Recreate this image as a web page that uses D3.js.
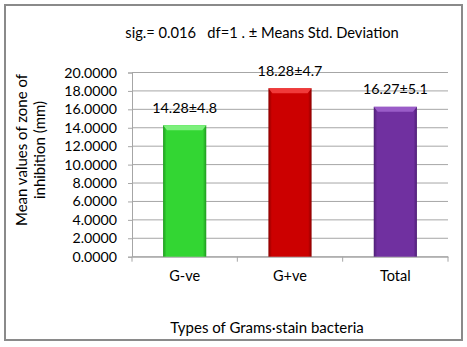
<!DOCTYPE html>
<html><head><meta charset="utf-8">
<script src="https://cdn.jsdelivr.net/npm/d3@7"></script>
<style>body{margin:0;background:#fff}svg{display:block}text{font-family:Lato,"Open Sans",sans-serif;fill:#000}</style>
</head><body><svg id="c" width="467" height="347"></svg>
<script>
const categories = ["G-ve", "G+ve", "Total"];
const means = [14.28, 18.28, 16.27];
const sds = [4.8, 4.7, 5.1];
const yTicks = [0, 2, 4, 6, 8, 10, 12, 14, 16, 18, 20];
const colors = ["#33d633", "#cc0000", "#7030a0"];
const lightColors = ["#7cf07c", "#f03a3a", "#9a5cc8"];
const darkColors = ["#1f9a1f", "#8a0000", "#4e1f75"];

const svg = d3.select("#c");
svg.append("rect").attr("x", 5).attr("y", 5).attr("width", 457).attr("height", 335)
  .attr("fill", "#fff").attr("stroke", "#8a8a8a").attr("stroke-width", 2);

const x0 = 132, x1 = 448, yTop = 72.5, yBot = 256.7;
const x = d3.scaleBand().domain(categories).range([x0, x1]).paddingInner(0.59).paddingOuter(0.295);
const y = d3.scaleLinear().domain([0, 20]).range([yBot, yTop]);

// gridlines
svg.append("g").selectAll("line").data(yTicks).join("line")
  .attr("x1", x0).attr("x2", x1).attr("y1", d => y(d)).attr("y2", d => y(d))
  .attr("stroke", "#a6a6a6").attr("stroke-width", 1);

// y axis
const ya = svg.append("g").attr("transform", `translate(${x0},0)`)
  .call(d3.axisLeft(y).tickValues(yTicks).tickFormat(d3.format(".4f")).tickSize(4).tickPadding(11));
ya.select(".domain").attr("stroke", "#a6a6a6");
ya.selectAll(".tick line").attr("stroke", "#a6a6a6");
ya.selectAll("text").style("font-size", "14.2px");

// x axis
const xa = svg.append("g").attr("transform", `translate(0,${yBot})`)
  .call(d3.axisBottom(x).tickSize(0).tickPadding(14));
xa.select(".domain").attr("stroke", "#a6a6a6");
xa.selectAll("text").style("font-size", "14.5px");
const bounds = d3.range(categories.length + 1).map(i => x0 + i * (x1 - x0) / categories.length);
svg.append("g").selectAll("line").data(bounds).join("line")
  .attr("x1", d => d).attr("x2", d => d).attr("y1", yBot).attr("y2", yBot + 5)
  .attr("stroke", "#a6a6a6");

// gradients
const defs = svg.append("defs");
categories.forEach((c, i) => {
  const g = defs.append("linearGradient").attr("id", "g" + i).attr("x1", 0).attr("x2", 1).attr("y1", 0).attr("y2", 0);
  g.append("stop").attr("offset", 0).attr("stop-color", darkColors[i]);
  g.append("stop").attr("offset", 0.08).attr("stop-color", colors[i]);
  g.append("stop").attr("offset", 0.92).attr("stop-color", colors[i]);
  g.append("stop").attr("offset", 1).attr("stop-color", darkColors[i]);
});

const bars = svg.append("g").selectAll("g").data(categories).join("g");
bars.append("rect")
  .attr("x", d => x(d)).attr("width", x.bandwidth())
  .attr("y", (d, i) => y(means[i])).attr("height", (d, i) => yBot - y(means[i]))
  .attr("fill", (d, i) => `url(#g${i})`);
bars.append("path")
  .attr("d", (d, i) => {
    const l = x(d), r = x(d) + x.bandwidth(), t = y(means[i]);
    return `M${l},${t}L${r},${t}L${r - 4},${t + 5}L${l + 4},${t + 5}Z`;
  })
  .attr("fill", (d, i) => lightColors[i]);

// value labels
svg.append("g").selectAll("text").data(categories).join("text")
  .attr("x", d => x(d) + x.bandwidth() / 2)
  .attr("y", (d, i) => y(means[i]) - 12.5)
  .attr("text-anchor", "middle").style("font-size", "14.3px")
  .text((d, i) => `${means[i].toFixed(2)}±${sds[i]}`);

// title
svg.append("text").attr("x", 262).attr("y", 38).attr("text-anchor", "middle")
  .style("font-size", "14.7px").attr("xml:space", "preserve")
  .text("sig.= 0.016   df=1 . ± Means Std. Deviation");

// y title
const yt = svg.append("text").attr("transform", "translate(0,150) rotate(-90)")
  .attr("text-anchor", "middle").style("font-size", "15px");
yt.append("tspan").attr("x", 0).attr("y", 27).text("Mean values of zone of");
yt.append("tspan").attr("x", 0).attr("y", 45).text("inhibition (mm)");

// x title
svg.append("text").attr("x", 267).attr("y", 333).attr("text-anchor", "middle")
  .style("font-size", "15px").text("Types of Grams·stain bacteria");
</script></body></html>
